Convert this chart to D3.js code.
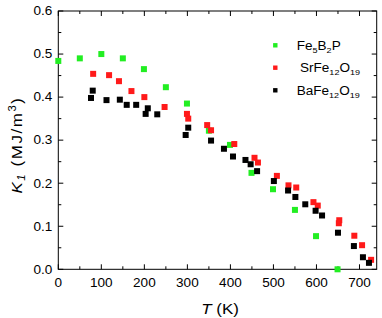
<!DOCTYPE html>
<html>
<head>
<meta charset="utf-8">
<script src="https://cdn.jsdelivr.net/npm/d3@7"></script>
<style>
  body { margin: 0; background: #fff; }
  text { font-family: "Liberation Sans", Arial, sans-serif; fill: #000; }
</style>
</head>
<body>
<svg id="chart" width="382" height="318"></svg>
<script>
// Fe5B2P
const feT = [0, 50, 100, 150, 199, 250, 299, 350, 399, 449, 499, 550, 599, 649];
const feK = [0.484, 0.490, 0.500, 0.490, 0.465, 0.423, 0.385, 0.322, 0.289, 0.224, 0.186, 0.138, 0.077, 0.0];

// SrFe12O19
const srT = [81, 118, 141, 170, 200, 247, 299, 302, 346, 355, 409, 456, 464, 508, 535, 553, 593, 603, 652, 653, 688, 706, 727];
const srK = [0.454, 0.451, 0.437, 0.414, 0.400, 0.377, 0.361, 0.350, 0.335, 0.323, 0.291, 0.259, 0.248, 0.217, 0.195, 0.190, 0.156, 0.148, 0.107, 0.114, 0.078, 0.056, 0.022];

// BaFe12O19
const baT = [76, 80, 112, 143, 159, 181, 203, 208, 230, 296, 302, 355, 385, 406, 435, 447, 462, 501, 534, 551, 574, 598, 613, 650, 687, 708, 722];
const baK = [0.398, 0.415, 0.393, 0.394, 0.382, 0.382, 0.361, 0.374, 0.360, 0.312, 0.329, 0.299, 0.280, 0.262, 0.254, 0.244, 0.228, 0.205, 0.183, 0.168, 0.151, 0.136, 0.125, 0.085, 0.054, 0.028, 0.015];

const xTicks = [0, 100, 200, 300, 400, 500, 600, 700];
const yTicks = [0.0, 0.1, 0.2, 0.3, 0.4, 0.5, 0.6];

const series = [
  { name: 'fe', label: ['Fe', '5', 'B', '2', 'P'], color: '#22ee22', T: feT, K: feK },
  { name: 'sr', label: ['SrFe', '12', 'O', '19'], color: '#ff1a1a', T: srT, K: srK },
  { name: 'ba', label: ['BaFe', '12', 'O', '19'], color: '#000000', T: baT, K: baK },
];

const svg = d3.select('#chart');
const mLeft = 58.3, mRight = 376.7, mTop = 11, mBottom = 269.3;
const stretch = 1.13; // source font is a bit wider than Liberation Sans

const x = d3.scaleLinear().domain([0, 740]).range([mLeft, mRight]);
const y = d3.scaleLinear().domain([0, 0.6]).range([mBottom, mTop]);

const minorX = d3.range(0, 741, 50);
const minorY = d3.range(0, 0.601, 0.05);

// frame
svg.append('rect')
  .attr('x', mLeft).attr('y', mTop)
  .attr('width', mRight - mLeft).attr('height', mBottom - mTop)
  .attr('fill', 'none').attr('stroke', '#000').attr('stroke-width', 1);

const g = svg.append('g').attr('stroke', '#000').attr('stroke-width', 1);

// inward ticks on all four sides
minorX.forEach(v => {
  const len = v % 100 === 0 ? 5 : 3;
  g.append('line').attr('x1', x(v)).attr('x2', x(v)).attr('y1', mBottom).attr('y2', mBottom - len);
  g.append('line').attr('x1', x(v)).attr('x2', x(v)).attr('y1', mTop).attr('y2', mTop + len);
});
minorY.forEach((v, i) => {
  const len = i % 2 === 0 ? 5 : 3;
  g.append('line').attr('y1', y(v)).attr('y2', y(v)).attr('x1', mLeft).attr('x2', mLeft + len);
  g.append('line').attr('y1', y(v)).attr('y2', y(v)).attr('x1', mRight).attr('x2', mRight - len);
});

// tick labels
svg.append('g').selectAll('text').data(xTicks).join('text')
  .attr('transform', d => `translate(${x(d)},${mBottom + 17.3}) scale(${stretch},1)`)
  .attr('text-anchor', 'middle').attr('font-size', 12)
  .text(d => d);

svg.append('g').selectAll('text').data(yTicks).join('text')
  .attr('transform', d => `translate(${mLeft - 6},${y(d) + 4.3}) scale(${stretch},1)`)
  .attr('text-anchor', 'end').attr('font-size', 12)
  .text(d => d3.format('.1f')(d));

// axis titles
const xt = svg.append('text')
  .attr('transform', `translate(220,313.5) scale(${stretch},1)`)
  .attr('text-anchor', 'middle').attr('font-size', 15);
xt.append('tspan').attr('font-style', 'italic').text('T');
xt.append('tspan').text(' (K)');

const yt = svg.append('text')
  .attr('transform', `translate(21.5,145) rotate(-90) scale(${stretch},1)`)
  .attr('text-anchor', 'middle').attr('font-size', 15)
  .attr('letter-spacing', 1.4);
yt.append('tspan').attr('font-style', 'italic').text('K');
yt.append('tspan').attr('font-size', 10).attr('dy', 3).attr('font-style', 'italic').text('1');
yt.append('tspan').attr('dy', -3).text(' (MJ/m');
yt.append('tspan').attr('font-size', 10).attr('dy', -6).text('3');
yt.append('tspan').attr('dy', 6).text(')');

// points
const s = 6;
series.forEach(sr => {
  const pts = sr.T.map((t, i) => ({ t, k: sr.K[i] }));
  svg.append('g').selectAll('rect').data(pts).join('rect')
    .attr('x', d => x(d.t) - s / 2)
    .attr('y', d => y(d.k) - s / 2)
    .attr('width', s).attr('height', s)
    .attr('fill', sr.color);
});

// legend
const legY = [45.3, 67.7, 90.3];
const legX = [296.7, 300, 296.7];
series.forEach((sr, i) => {
  svg.append('rect')
    .attr('x', 275.3 - 2.2).attr('y', legY[i] - 2.2)
    .attr('width', 4.4).attr('height', 4.4)
    .attr('fill', sr.color);
  const t = svg.append('text')
    .attr('transform', `translate(${legX[i]},${legY[i] + 4.5}) scale(${stretch},1)`)
    .attr('font-size', 12);
  sr.label.forEach((part, j) => {
    const sub = j % 2 === 1;
    t.append('tspan')
      .attr('font-size', sub ? 8 : 12)
      .attr('dy', j === 0 ? 0 : (sub ? 3 : -3))
      .text(part);
  });
});
</script>
</body>
</html>
